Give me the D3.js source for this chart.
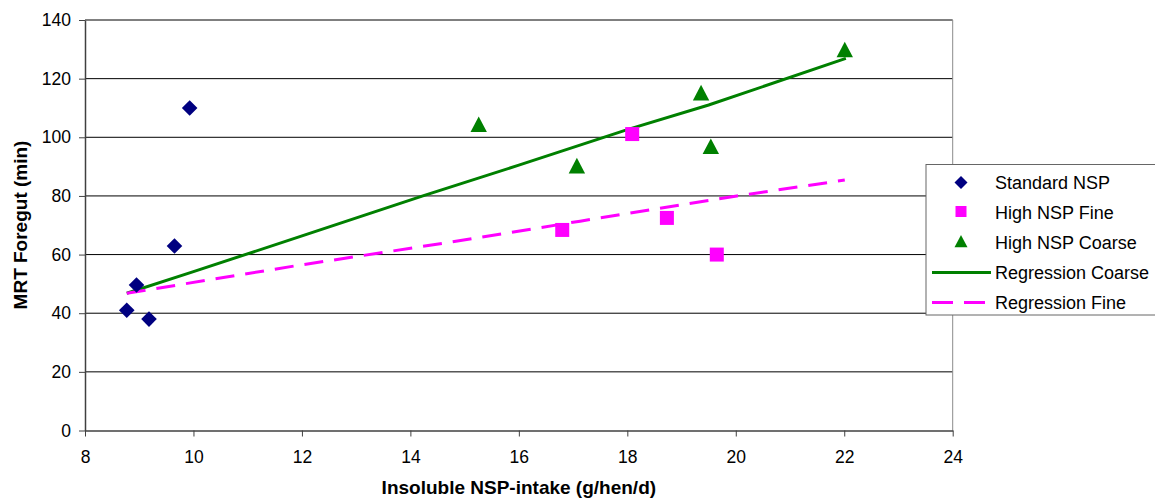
<!DOCTYPE html>
<html lang="en">
<head>
    <meta charset="UTF-8">
    <script src="https://d3js.org/d3.v7.min.js"></script>
    <title>MRT Foregut</title>
    <style>
      body { margin: 0; background: #fff; }
      text { font-family: Arial, "Liberation Sans", sans-serif; }
    </style>
</head>
<body>
<svg id="chart" width="1155" height="500"></svg>
<script>

// data
const standardX = [8.77, 8.95, 9.18, 9.65, 9.93];
const standardY = [41, 49.6, 38, 62.9, 110];

const fineX = [16.8, 18.09, 18.73, 19.65];
const fineY = [68.4, 101.1, 72.5, 60];

const coarseX = [15.26, 17.07, 19.36, 19.54, 22.01];
const coarseY = [104.3, 90.2, 115.1, 96.8, 129.8];

const regCoarseX = [8.77, 10, 11.96, 14.23, 16, 18, 19.5, 22.03];
const regCoarseY = [46.8, 54.2, 66.1, 80, 90.5, 102.6, 111, 126.9];

const regFineX = [8.77, 11.96, 14.73, 17.13, 20.02, 22.01];
const regFineY = [46.8, 56.4, 64.2, 71.4, 80, 85.4];

const xTicks = [8, 10, 12, 14, 16, 18, 20, 22, 24];
const yTicks = [0, 20, 40, 60, 80, 100, 120, 140];

const legendLabels = ["Standard NSP", "High NSP Fine", "High NSP Coarse", "Regression Coarse", "Regression Fine"];

const svg = d3.select("svg#chart");
const margin = {top: 20, left: 85};
const chartWidth = 867.7;
const chartHeight = 410.5;

const xScale = d3.scaleLinear().domain([8, 24]).range([0, chartWidth]);
const yScale = d3.scaleLinear().domain([0, 140]).range([chartHeight, 0]);

const zip = (xs, ys) => xs.map((x, i) => ({x: x, y: ys[i]}));

let chartArea = svg.append("g")
    .attr("transform", `translate(${margin.left},${margin.top})`);

// gridlines
chartArea.append("g")
  .selectAll("line")
  .data(yTicks.filter(d => d > 0))
  .join("line")
    .attr("x1", 0)
    .attr("x2", chartWidth)
    .attr("y1", d => yScale(d))
    .attr("y2", d => yScale(d))
    .attr("stroke", "#000")
    .attr("stroke-width", 1);

// right border of plot area
chartArea.append("line")
    .attr("x1", chartWidth).attr("x2", chartWidth)
    .attr("y1", 0).attr("y2", chartHeight)
    .attr("stroke", "#8c8c8c");

// axes
let leftAxis = d3.axisLeft(yScale).tickValues(yTicks).tickSize(6).tickSizeOuter(0).tickPadding(8);
let yAxisG = chartArea.append("g").call(leftAxis);

let bottomAxis = d3.axisBottom(xScale).tickValues(xTicks).tickSize(6).tickSizeOuter(0).tickPadding(14);
let xAxisG = chartArea.append("g")
    .attr("transform", `translate(0,${chartHeight})`)
    .call(bottomAxis);

[yAxisG, xAxisG].forEach(g => {
  g.select(".domain").attr("stroke", "#404040").attr("stroke-width", 1.5);
  g.selectAll(".tick line").attr("stroke", "#404040");
  g.selectAll(".tick text")
    .attr("font-family", "Arial, 'Liberation Sans', sans-serif")
    .attr("font-size", 17.5)
    .attr("fill", "#000");
});

// regression lines
const lineGen = d3.line()
    .x(d => xScale(d.x))
    .y(d => yScale(d.y));

chartArea.append("path")
    .datum(zip(regCoarseX, regCoarseY))
    .attr("fill", "none")
    .attr("stroke", "#008000")
    .attr("stroke-width", 3)
    .attr("d", lineGen);

chartArea.append("path")
    .datum(zip(regFineX, regFineY))
    .attr("fill", "none")
    .attr("stroke", "#ff00ff")
    .attr("stroke-width", 3)
    .attr("stroke-dasharray", "19,11")
    .attr("d", lineGen);

// markers
const diamond = r => `M0,${-r}L${r},0L0,${r}L${-r},0Z`;
const square = r => `M${-r},${-r}H${r}V${r}H${-r}Z`;
const triangle = r => `M0,${-r}L${r},${r * 0.9}L${-r},${r * 0.9}Z`;

chartArea.append("g")
  .selectAll("path")
  .data(zip(standardX, standardY))
  .join("path")
    .attr("transform", d => `translate(${xScale(d.x)},${yScale(d.y)})`)
    .attr("d", diamond(7.8))
    .attr("fill", "#000080");

chartArea.append("g")
  .selectAll("path")
  .data(zip(fineX, fineY))
  .join("path")
    .attr("transform", d => `translate(${xScale(d.x)},${yScale(d.y)})`)
    .attr("d", square(7))
    .attr("fill", "#ff00ff");

chartArea.append("g")
  .selectAll("path")
  .data(zip(coarseX, coarseY))
  .join("path")
    .attr("transform", d => `translate(${xScale(d.x)},${yScale(d.y)})`)
    .attr("d", triangle(8.2))
    .attr("fill", "#008000");

// axis titles
svg.append("text")
    .attr("transform", `translate(27,225) rotate(-90)`)
    .attr("text-anchor", "middle")
    .attr("font-size", 19)
    .attr("font-weight", "bold")
    .text("MRT Foregut (min)");

svg.append("text")
    .attr("x", margin.left + chartWidth / 2)
    .attr("y", 494)
    .attr("text-anchor", "middle")
    .attr("font-size", 19)
    .attr("font-weight", "bold")
    .text("Insoluble NSP-intake (g/hen/d)");

// legend
let legend = svg.append("g").attr("transform", "translate(926,164.5)");
legend.append("rect")
    .attr("width", 240)
    .attr("height", 150.5)
    .attr("fill", "#fff")
    .attr("stroke", "#666");

legendLabels.forEach((label, i) => {
  let row = legend.append("g").attr("transform", `translate(0,${18 + i * 30})`);
  if (i === 0) row.append("path").attr("transform", "translate(35,0)").attr("d", diamond(6.5)).attr("fill", "#000080");
  if (i === 1) row.append("path").attr("transform", "translate(35,-1)").attr("d", square(5.5)).attr("fill", "#ff00ff");
  if (i === 2) row.append("path").attr("transform", "translate(35,-1)").attr("d", triangle(6.5)).attr("fill", "#008000");
  if (i === 3) row.append("line").attr("x1", 6).attr("x2", 65).attr("stroke", "#008000").attr("stroke-width", 3);
  if (i === 4) row.append("line").attr("x1", 6).attr("x2", 65).attr("stroke", "#ff00ff")
      .attr("stroke-width", 3).attr("stroke-dasharray", "21,11");
  row.append("text")
      .attr("x", 69)
      .attr("y", 6)
      .attr("font-size", 18)
      .text(label);
});

</script>
</body>
</html>
